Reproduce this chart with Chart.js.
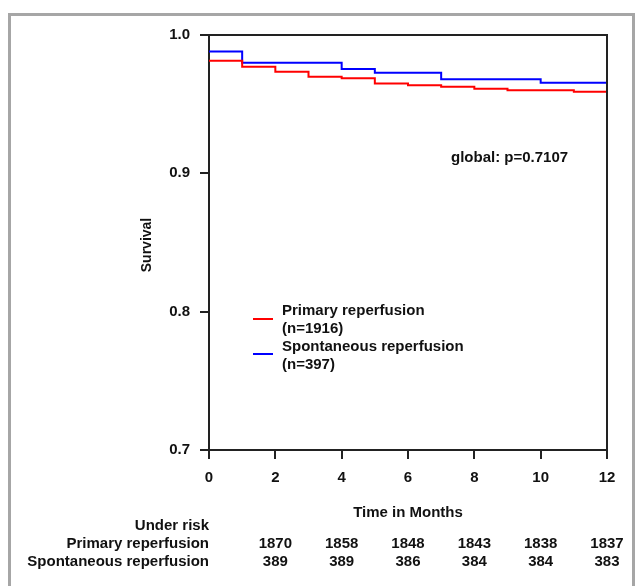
<!DOCTYPE html>
<html>
<head>
<meta charset="utf-8">
<script src="https://cdn.jsdelivr.net/npm/chart.js@4"></script>
<style>
    body { margin: 0; background: #fff; }
    #frame {
        position: absolute; left: 8px; top: 13px;
        width: 621px; height: 600px;
        border: 3px solid #a6a6a6;
    }
    #survivalChart { position: absolute; left: 0; top: 0; }
</style>
</head>
<body>
<div id="frame"></div>
<canvas id="survivalChart" width="639" height="586"></canvas>
<script>
// Kaplan-Meier steps (month where the curve drops, survival after the drop)
const primaryMonths = [0, 1, 2, 3, 4, 5, 6, 7, 8, 9, 11, 12];
const primarySurvival = [0.9814, 0.977, 0.9735, 0.9698, 0.9687, 0.965, 0.9636, 0.9626, 0.9612, 0.960, 0.959, 0.959];
const spontMonths = [0, 1, 4, 5, 7, 10, 12];
const spontSurvival = [0.988, 0.980, 0.9754, 0.9727, 0.968, 0.9655, 0.9655];

// numbers under risk
const riskMonths = [2, 4, 6, 8, 10, 12];
const riskPrimary = [1870, 1858, 1848, 1843, 1838, 1837];
const riskSpont = [389, 389, 386, 384, 384, 383];

const FONT = '"Liberation Sans", Arial, sans-serif';
const ink = '#111';

const toPoints = (xs, ys) => xs.map((x, i) => ({ x: x, y: ys[i] }));

const extras = {
    id: 'extras',
    afterDraw(chart) {
        const { ctx, chartArea: a, scales } = chart;
        const xs = scales.x;
        ctx.save();

        // top and right border of the plot box
        ctx.strokeStyle = '#222';
        ctx.lineWidth = 2;
        ctx.beginPath();
        ctx.moveTo(a.left, a.top);
        ctx.lineTo(a.right, a.top);
        ctx.lineTo(a.right, a.bottom);
        ctx.stroke();

        ctx.fillStyle = ink;
        ctx.font = 'bold 15px ' + FONT;
        ctx.textBaseline = 'middle';

        // p-value
        ctx.textAlign = 'left';
        ctx.fillText('global: p=0.7107', 451, 158);

        // legend
        ctx.lineWidth = 2;
        ctx.strokeStyle = 'rgb(255,0,0)';
        ctx.beginPath(); ctx.moveTo(253, 319); ctx.lineTo(273, 319); ctx.stroke();
        ctx.strokeStyle = 'rgb(0,0,255)';
        ctx.beginPath(); ctx.moveTo(253, 354); ctx.lineTo(273, 354); ctx.stroke();
        ctx.fillText('Primary reperfusion', 282, 311);
        ctx.fillText('(n=1916)', 282, 329);
        ctx.fillText('Spontaneous reperfusion', 282, 347);
        ctx.fillText('(n=397)', 282, 365);

        // axis titles
        ctx.textAlign = 'center';
        ctx.fillText('Time in Months', xs.getPixelForValue(6), 513);
        ctx.save();
        ctx.translate(147, 245);
        ctx.rotate(-Math.PI / 2);
        ctx.font = 'bold 14px ' + FONT;
        ctx.fillText('Survival', 0, 0);
        ctx.restore();

        // under risk table
        ctx.textAlign = 'right';
        ctx.fillText('Under risk', a.left, 526);
        ctx.fillText('Primary reperfusion', a.left, 544);
        ctx.fillText('Spontaneous reperfusion', a.left, 562);
        ctx.textAlign = 'center';
        riskMonths.forEach((m, i) => {
            const px = xs.getPixelForValue(m);
            ctx.fillText(String(riskPrimary[i]), px, 544);
            ctx.fillText(String(riskSpont[i]), px, 562);
        });

        ctx.restore();
    }
};

const tickFont = { family: FONT, size: 15, weight: 'bold' };

new Chart(document.getElementById('survivalChart').getContext('2d'), {
    type: 'line',
    data: {
        datasets: [
            {
                label: 'Primary reperfusion (n=1916)',
                data: toPoints(primaryMonths, primarySurvival),
                borderColor: 'rgb(255,0,0)',
                borderWidth: 2,
                stepped: true,
                pointRadius: 0,
                fill: false
            },
            {
                label: 'Spontaneous reperfusion (n=397)',
                data: toPoints(spontMonths, spontSurvival),
                borderColor: 'rgb(0,0,255)',
                borderWidth: 2,
                stepped: true,
                pointRadius: 0,
                fill: false
            }
        ]
    },
    options: {
        responsive: false,
        devicePixelRatio: 1,
        animation: false,
        layout: { padding: { left: 0, top: 35, right: 32, bottom: 96 } },
        plugins: {
            legend: { display: false },
            tooltip: { enabled: false }
        },
        scales: {
            x: {
                type: 'linear',
                min: 0,
                max: 12,
                afterFit: s => { s.height = 40; },
                ticks: { stepSize: 2, color: ink, font: tickFont, padding: 10, maxRotation: 0 },
                grid: { drawOnChartArea: false, tickLength: 9, color: '#222', lineWidth: 2 },
                border: { color: '#222', width: 2 }
            },
            y: {
                min: 0.7,
                max: 1.0,
                afterFit: s => { s.width = 209; },
                ticks: {
                    stepSize: 0.1,
                    color: ink,
                    font: tickFont,
                    padding: 10,
                    callback: v => Number(v).toFixed(1)
                },
                grid: { drawOnChartArea: false, tickLength: 9, color: '#222', lineWidth: 2 },
                border: { color: '#222', width: 2 }
            }
        }
    },
    plugins: [extras]
});
</script>
</body>
</html>
